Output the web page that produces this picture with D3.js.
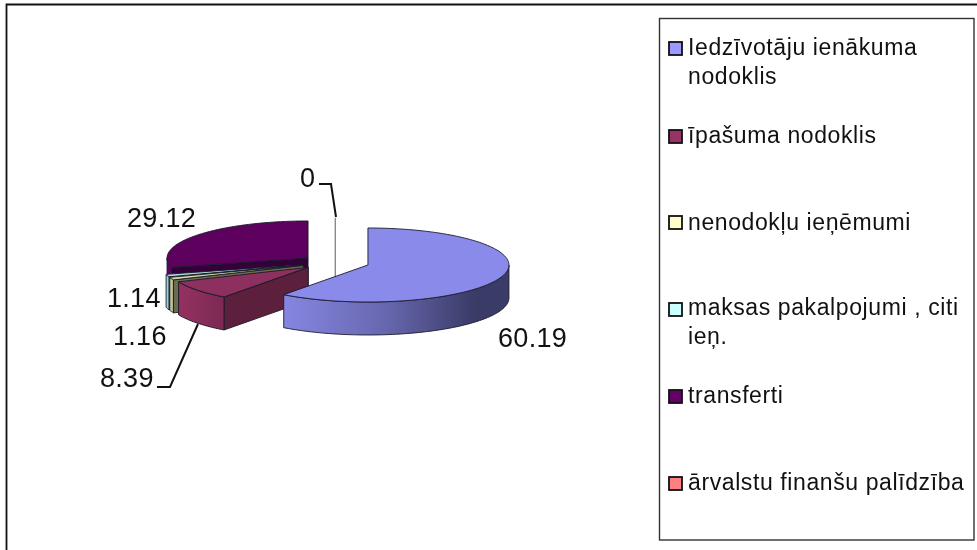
<!DOCTYPE html>
<html><head><meta charset="utf-8">
<script src="https://cdn.jsdelivr.net/npm/d3@7/dist/d3.min.js"></script>
<style>html,body{margin:0;padding:0;background:#fff}svg{display:block;filter:blur(0.45px)}text{font-family:"Liberation Sans",Arial,sans-serif;fill:#111}</style>
</head><body><svg id="c" width="977" height="550"></svg>
<script>
const categories = [["Iedzīvotāju ienākuma","nodoklis"],["īpašuma nodoklis"],["nenodokļu ieņēmumi"],["maksas pakalpojumi , citi","ieņ."],["transferti"],["ārvalstu finanšu palīdzība"]];
const values = [60.19,8.39,1.16,1.14,29.12,0];
const valueLabels = ["60.19","8.39","1.16","1.14","29.12","0"];
const swatchColors = ["#9999ff","#993366","#ffffcc","#ccffff","#660066","#ff8080"];
const topColors = ["#8a8aea","#8d2f5f","#d9d9ab","#a6dadd","#5e005e","#e07070"];
const faceColors = ["#3c3c6b","#5c1f3c","#6b6b50","#5f8084","#33003a","#804040"];
const sideLight = ["#8686e2","#93315f","#d6d6a6","#a4dfe3","#5e005e","#e07070"];
const sideDark = ["#3b3b68","#7e2a55","#a8a880","#8fc4c8","#5e005e","#a05050"];
const labelBaselines = [[498,347],[100,387],[113,345],[107,307],[127,227],[300,187]];
const legendRows = [55,143,230,315,403,490];
const swatchTops = [42,130,216,303,390,477];
const leaders = [[[157,387],[170,387],[198,324]],[[319,184],[331,184],[336,217]]];
const leaderOwners = [1,5];

const svg = d3.select("#c");
const centre = {x:335.3,y:262.6}, radius = {x:141,y:37}, explode = {x:34.4,y:7.6}, depth = 33;
const ux = d3.scaleLinear().domain([-1,1]).range([-radius.x,radius.x]);
const uy = d3.scaleLinear().domain([-1,1]).range([-radius.y,radius.y]);
const arcs = d3.pie().sort(null).value(d=>d).startAngle(0).endAngle(2*Math.PI)(values);
const line = d3.line();
const defs = svg.append("defs");

function rim(c,t,dz=0){return [c.x+ux(Math.sin(t)),c.y+uy(-Math.cos(t))+dz];}
function range(a,b){const n=Math.max(2,Math.ceil((b-a)/0.02));return d3.range(n+1).map(i=>a+(b-a)*i/n);}

const drawOrder = [4,3,2,1,5,0];
drawOrder.forEach(i=>{
  const d = arcs[i], mid=(d.startAngle+d.endAngle)/2;
  const c = {x:centre.x+explode.x*Math.sin(mid), y:centre.y-explode.y*Math.cos(mid)};
  const g = svg.append("g");
  const outline = {stroke:"#1a1a2a","stroke-width":0.9,"stroke-linejoin":"round"};
  const put=(pts,fill,o=outline)=>{const p=g.append("path").attr("d",line(pts)+"Z").attr("fill",fill);Object.entries(o).forEach(([k,v])=>p.attr(k,v));return p;};
  const face=(t,fill)=>put([[c.x,c.y],rim(c,t),rim(c,t,depth),[c.x,c.y+depth]],fill);
  if(d.startAngle===d.endAngle){
    g.append("path").attr("d",line([rim(c,d.startAngle),[c.x,c.y+depth]])).attr("stroke","#8a8a8a").attr("stroke-width",1.4).attr("fill","none");
    return;
  }
  if(Math.sin(d.startAngle)<-1e-6) face(d.startAngle,faceColors[i]);
  if(Math.sin(d.endAngle)>1e-6) face(d.endAngle,faceColors[i]);
  const a=Math.max(d.startAngle,Math.PI/2), b=Math.min(d.endAngle,3*Math.PI/2);
  if(b>a){
    const ts=range(a,b);
    const top=ts.map(t=>rim(c,t)), bot=ts.map(t=>rim(c,t,depth)).reverse();
    const xs=top.map(p=>p[0]);
    const id="side"+i;
    const gr=defs.append("linearGradient").attr("id",id).attr("gradientUnits","userSpaceOnUse")
      .attr("x1",d3.min(xs)).attr("x2",d3.max(xs)).attr("y1",0).attr("y2",0);
    gr.append("stop").attr("offset",0).attr("stop-color",sideLight[i]);
    gr.append("stop").attr("offset",0.45).attr("stop-color",d3.interpolateRgb(sideLight[i],sideDark[i])(0.42));
    gr.append("stop").attr("offset",0.85).attr("stop-color",sideDark[i]);
    gr.append("stop").attr("offset",1).attr("stop-color",sideDark[i]);
    put(top.concat(bot),`url(#${id})`);
  }
  const ts=range(d.startAngle,d.endAngle);
  put([[c.x,c.y]].concat(ts.map(t=>rim(c,t))),topColors[i]);
});

leaders.forEach((pts,k)=>svg.append("path").attr("d",line(pts)).attr("fill","none").attr("stroke","#111").attr("stroke-width",2).attr("data-for",leaderOwners[k]));

svg.selectAll("text.val").data(valueLabels).join("text").attr("class","val")
  .attr("x",(d,i)=>labelBaselines[i][0]).attr("y",(d,i)=>labelBaselines[i][1])
  .attr("font-size",27).attr("letter-spacing",0.3).text(d=>d);

// frame
svg.append("path").attr("d",line([[6.5,550],[6.5,4.5],[977,4.5]])).attr("fill","none").attr("stroke","#111").attr("stroke-width",1.8);
// legend
svg.append("rect").attr("x",659.5).attr("y",18.5).attr("width",314.5).attr("height",521.5).attr("fill","#fff").attr("stroke","#333").attr("stroke-width",1.4);
const lg = svg.append("g");
categories.forEach((lines,i)=>{
  lg.append("rect").attr("x",669).attr("y",swatchTops[i]).attr("width",13).attr("height",13)
    .attr("fill",swatchColors[i]).attr("stroke","#111").attr("stroke-width",1.8);
  lines.forEach((t,j)=>lg.append("text").attr("x",688).attr("y",legendRows[i]+j*28.5).attr("font-size",23).attr("letter-spacing",0.6).text(t));
});
</script></body></html>
